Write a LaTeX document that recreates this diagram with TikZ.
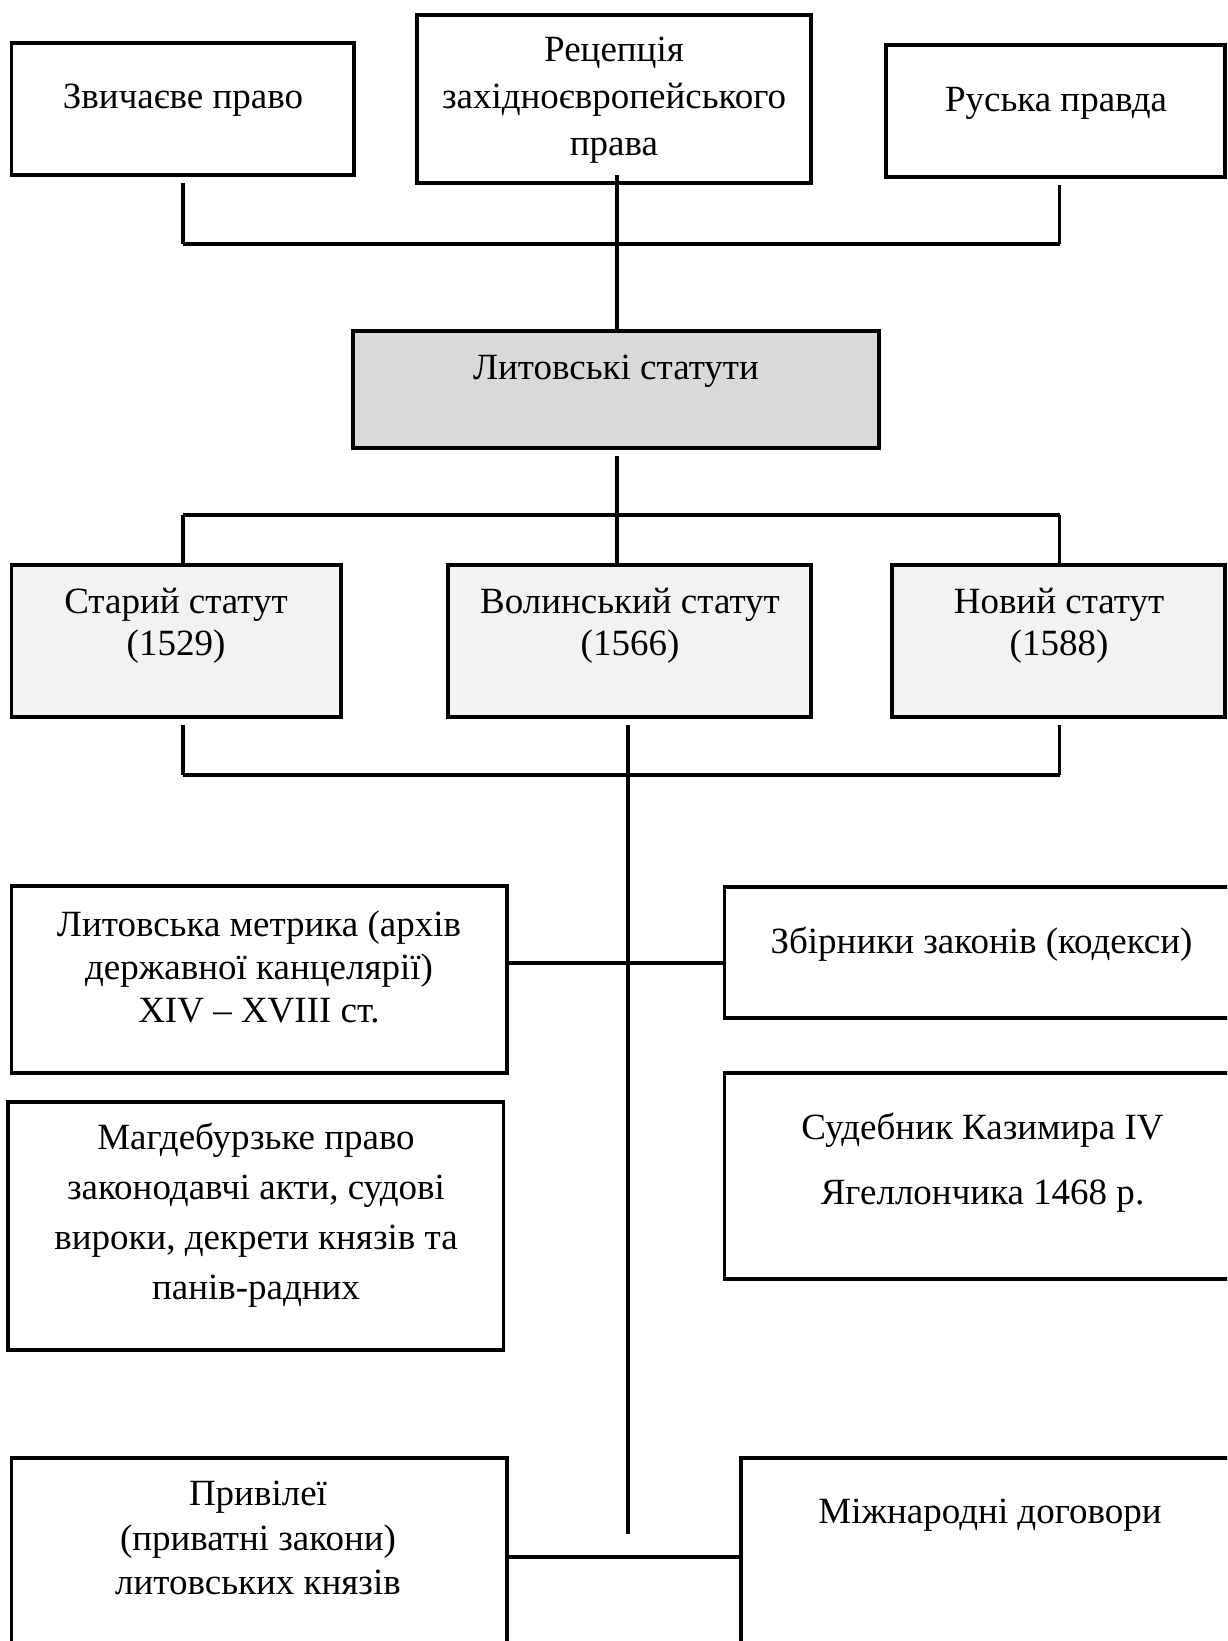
\documentclass[tikz,border=0pt]{standalone}
\usepackage{fontspec}
\setmainfont{Liberation Serif}
\usepackage{tikz}
\usetikzlibrary{positioning, calc}
\definecolor{boxGrey}{RGB}{217, 217, 217}
\definecolor{boxLight}{RGB}{242, 242, 242}

\tikzset{
  srcbox/.style={draw=black, line width=1.8pt, inner sep=0pt, fill=white},
  lbl/.style={align=center, inner sep=0pt, font=\fontsize{18.5}{23}\selectfont},
  link/.style={line width=1.6pt},
  bus/.style={line width=2pt},
}

\begin{document}
\begin{tikzpicture}[x=0.5pt, y=-0.5pt]
    \useasboundingbox (0,0) rectangle (1227,1641);
    \clip (0,0) rectangle (1227,1641);
    % sources
    \node[srcbox, minimum width=171.25pt, minimum height=66pt] (zv) at (182.75,109) {};
    \node[lbl] (zvT) at (183,100) {Звичаєве право};
    \node[srcbox, minimum width=197pt, minimum height=84pt] (rec) at (614,99) {};
    \node[lbl, font=\fontsize{18.5}{23.5}\selectfont] (recT) at (614,100) {Рецепція\\західноєвропейського\\права};
    \node[srcbox, minimum width=169.5pt, minimum height=66pt] (rp) at (1055.5,111) {};
    \node[lbl] (rpT) at (1056,103) {Руська правда};
    % the statutes
    \node[srcbox, fill=boxGrey, minimum width=263pt, minimum height=58.5pt] (lit) at (616,389.5) {};
    \node[lbl] (litT) at (616,371) {Литовські статути};
    \node[srcbox, fill=boxLight, minimum width=164.75pt, minimum height=76pt] (stary) at (176.25,641) {};
    \node[lbl, font=\fontsize{18.5}{21}\selectfont] (staryT) at (176,626) {Старий статут\\(1529)};
    \node[srcbox, fill=boxLight, minimum width=181.5pt, minimum height=76pt] (volyn) at (629.5,641) {};
    \node[lbl, font=\fontsize{18.5}{21}\selectfont] (volynT) at (630,626) {Волинський статут\\(1566)};
    \node[srcbox, fill=boxLight, minimum width=166.5pt, minimum height=76pt] (novy) at (1058.5,641) {};
    \node[lbl, font=\fontsize{18.5}{21}\selectfont] (novyT) at (1059,626) {Новий статут\\(1588)};
    % other sources
    \node[srcbox, minimum width=247.75pt, minimum height=93.5pt] (metr) at (259.25,979.5) {};
    \node[lbl, font=\fontsize{18.5}{21.5}\selectfont] (metrT) at (259,967) {Литовська метрика (архів\\державної канцелярії)\\XIV – XVIII ст.};
    \node[srcbox, minimum width=267.75pt, minimum height=65.5pt] (zbir) at (992.25,952.5) {};
    \node[lbl] (zbirT) at (981.5,944) {Збірники законів (кодекси)};
    \node[srcbox, minimum width=247.75pt, minimum height=124pt] (magd) at (255.75,1226) {};
    \node[lbl, font=\fontsize{18.5}{25}\selectfont] (magdT) at (256,1215) {Магдебурзьке право\\законодавчі акти, судові\\вироки, декрети князів та\\панів-радних};
    \node[srcbox, minimum width=267.75pt, minimum height=103pt] (sud) at (992.25,1176) {};
    \node[lbl, font=\fontsize{18.5}{32.5}\selectfont] (sudT) at (982.5,1163) {Судебник Казимира IV\\Ягеллончика 1468 р.};
    \node[srcbox, minimum width=247.75pt, minimum height=111pt] (pryv) at (259.25,1569) {};
    \node[lbl, font=\fontsize{18.5}{22.25}\selectfont] (pryvT) at (258,1538) {Привілеї\\(приватні закони)\\литовських князів};
    \node[srcbox, minimum width=259.5pt, minimum height=111pt] (mizh) at (1000.5,1569) {};
    \node[lbl] (mizhT) at (990,1515) {Міжнародні договори};
    % connectors
    \coordinate (xl) at (183,0);
    \coordinate (xr) at (1059.6,0);
    \coordinate (busA) at (617,244);
    \coordinate (busB) at (617,515);
    \coordinate (busC) at (628,775);
    \coordinate (trunkEnd) at (628,1534);
    \coordinate (rowH) at (628,963);
    \coordinate (rowL) at (628,1557);
    \draw[link, shorten <=3pt] (zv.south -| xl) -- (busA -| xl);
    \draw[link, shorten <=3pt] (rp.south -| xr) -- (busA -| xr);
    \draw[bus] (busA -| xl) -- (busA -| xr);
    \draw[link, shorten <=-5pt] (rec.south -| busA) -- (lit.north -| busA);
    \draw[link, shorten <=3pt] (lit.south -| busB) -- (busB);
    \draw[bus] (busB -| xl) -- (busB -| xr);
    \draw[link] (busB -| xl) -- (stary.north -| xl);
    \draw[link] (busB) -- (volyn.north -| busB);
    \draw[link] (busB -| xr) -- (novy.north -| xr);
    \draw[link, shorten <=3pt] (stary.south -| xl) -- (busC -| xl);
    \draw[link, shorten <=3pt] (novy.south -| xr) -- (busC -| xr);
    \draw[bus] (busC -| xl) -- (busC -| xr);
    \draw[link, shorten <=3pt] (volyn.south -| trunkEnd) -- (trunkEnd);
    \draw[bus] (metr.east |- rowH) -- (zbir.west |- rowH);
    \draw[bus] (pryv.east |- rowL) -- (mizh.west |- rowL);
\end{tikzpicture}
\end{document}
